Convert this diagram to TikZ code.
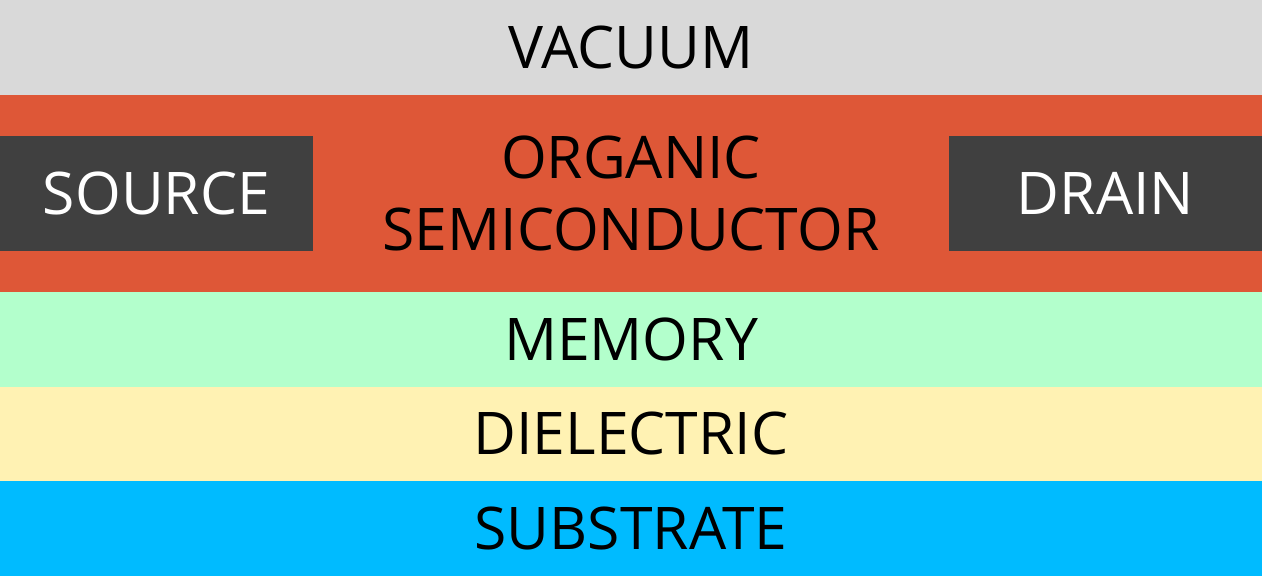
\documentclass[tikz,border=0pt]{standalone}
\usepackage{fontspec}
\setmainfont{Open Sans}
\usetikzlibrary{positioning}

\definecolor{vacuumgray}{HTML}{D9D9D9}
\definecolor{semired}{HTML}{DE5737}
\definecolor{contactgray}{HTML}{404040}
\definecolor{memorygreen}{HTML}{B3FFCC}
\definecolor{dielyellow}{HTML}{FFF2B3}
\definecolor{substrateblue}{HTML}{00BBFF}

\begin{document}
\begin{tikzpicture}[x=0.5pt, y=0.5pt,
    every node/.style={font={\fontsize{29.4}{36}\selectfont}, inner sep=0pt, outer sep=0pt},
    band/.style={minimum width=631pt},
    layer/.style={band, text height=21pt, text depth=0pt},
    contact/.style={fill=contactgray, text=white, minimum width=156.5pt, minimum height=57.25pt, text height=21pt, text depth=0pt}]
    \node[layer, fill=vacuumgray, minimum height=47.5pt, anchor=north west] (vacuum) at (0,576) {VACUUM};
    \node[band, fill=semired, minimum height=98.5pt, align=center] (semi) [below=0pt of vacuum] {ORGANIC\\SEMICONDUCTOR};
    \node[layer, fill=memorygreen, minimum height=47.5pt] (memory) [below=0pt of semi] {MEMORY};
    \node[layer, fill=dielyellow, minimum height=47pt] (dielectric) [below=0pt of memory] {DIELECTRIC};
    \node[layer, fill=substrateblue, minimum height=47.5pt] (substrate) [below=0pt of dielectric] {SUBSTRATE};
    \node[contact, anchor=west] (source) at (semi.west) {SOURCE};
    \node[contact, anchor=east] (drain) at (semi.east) {DRAIN};
\end{tikzpicture}
\end{document}
